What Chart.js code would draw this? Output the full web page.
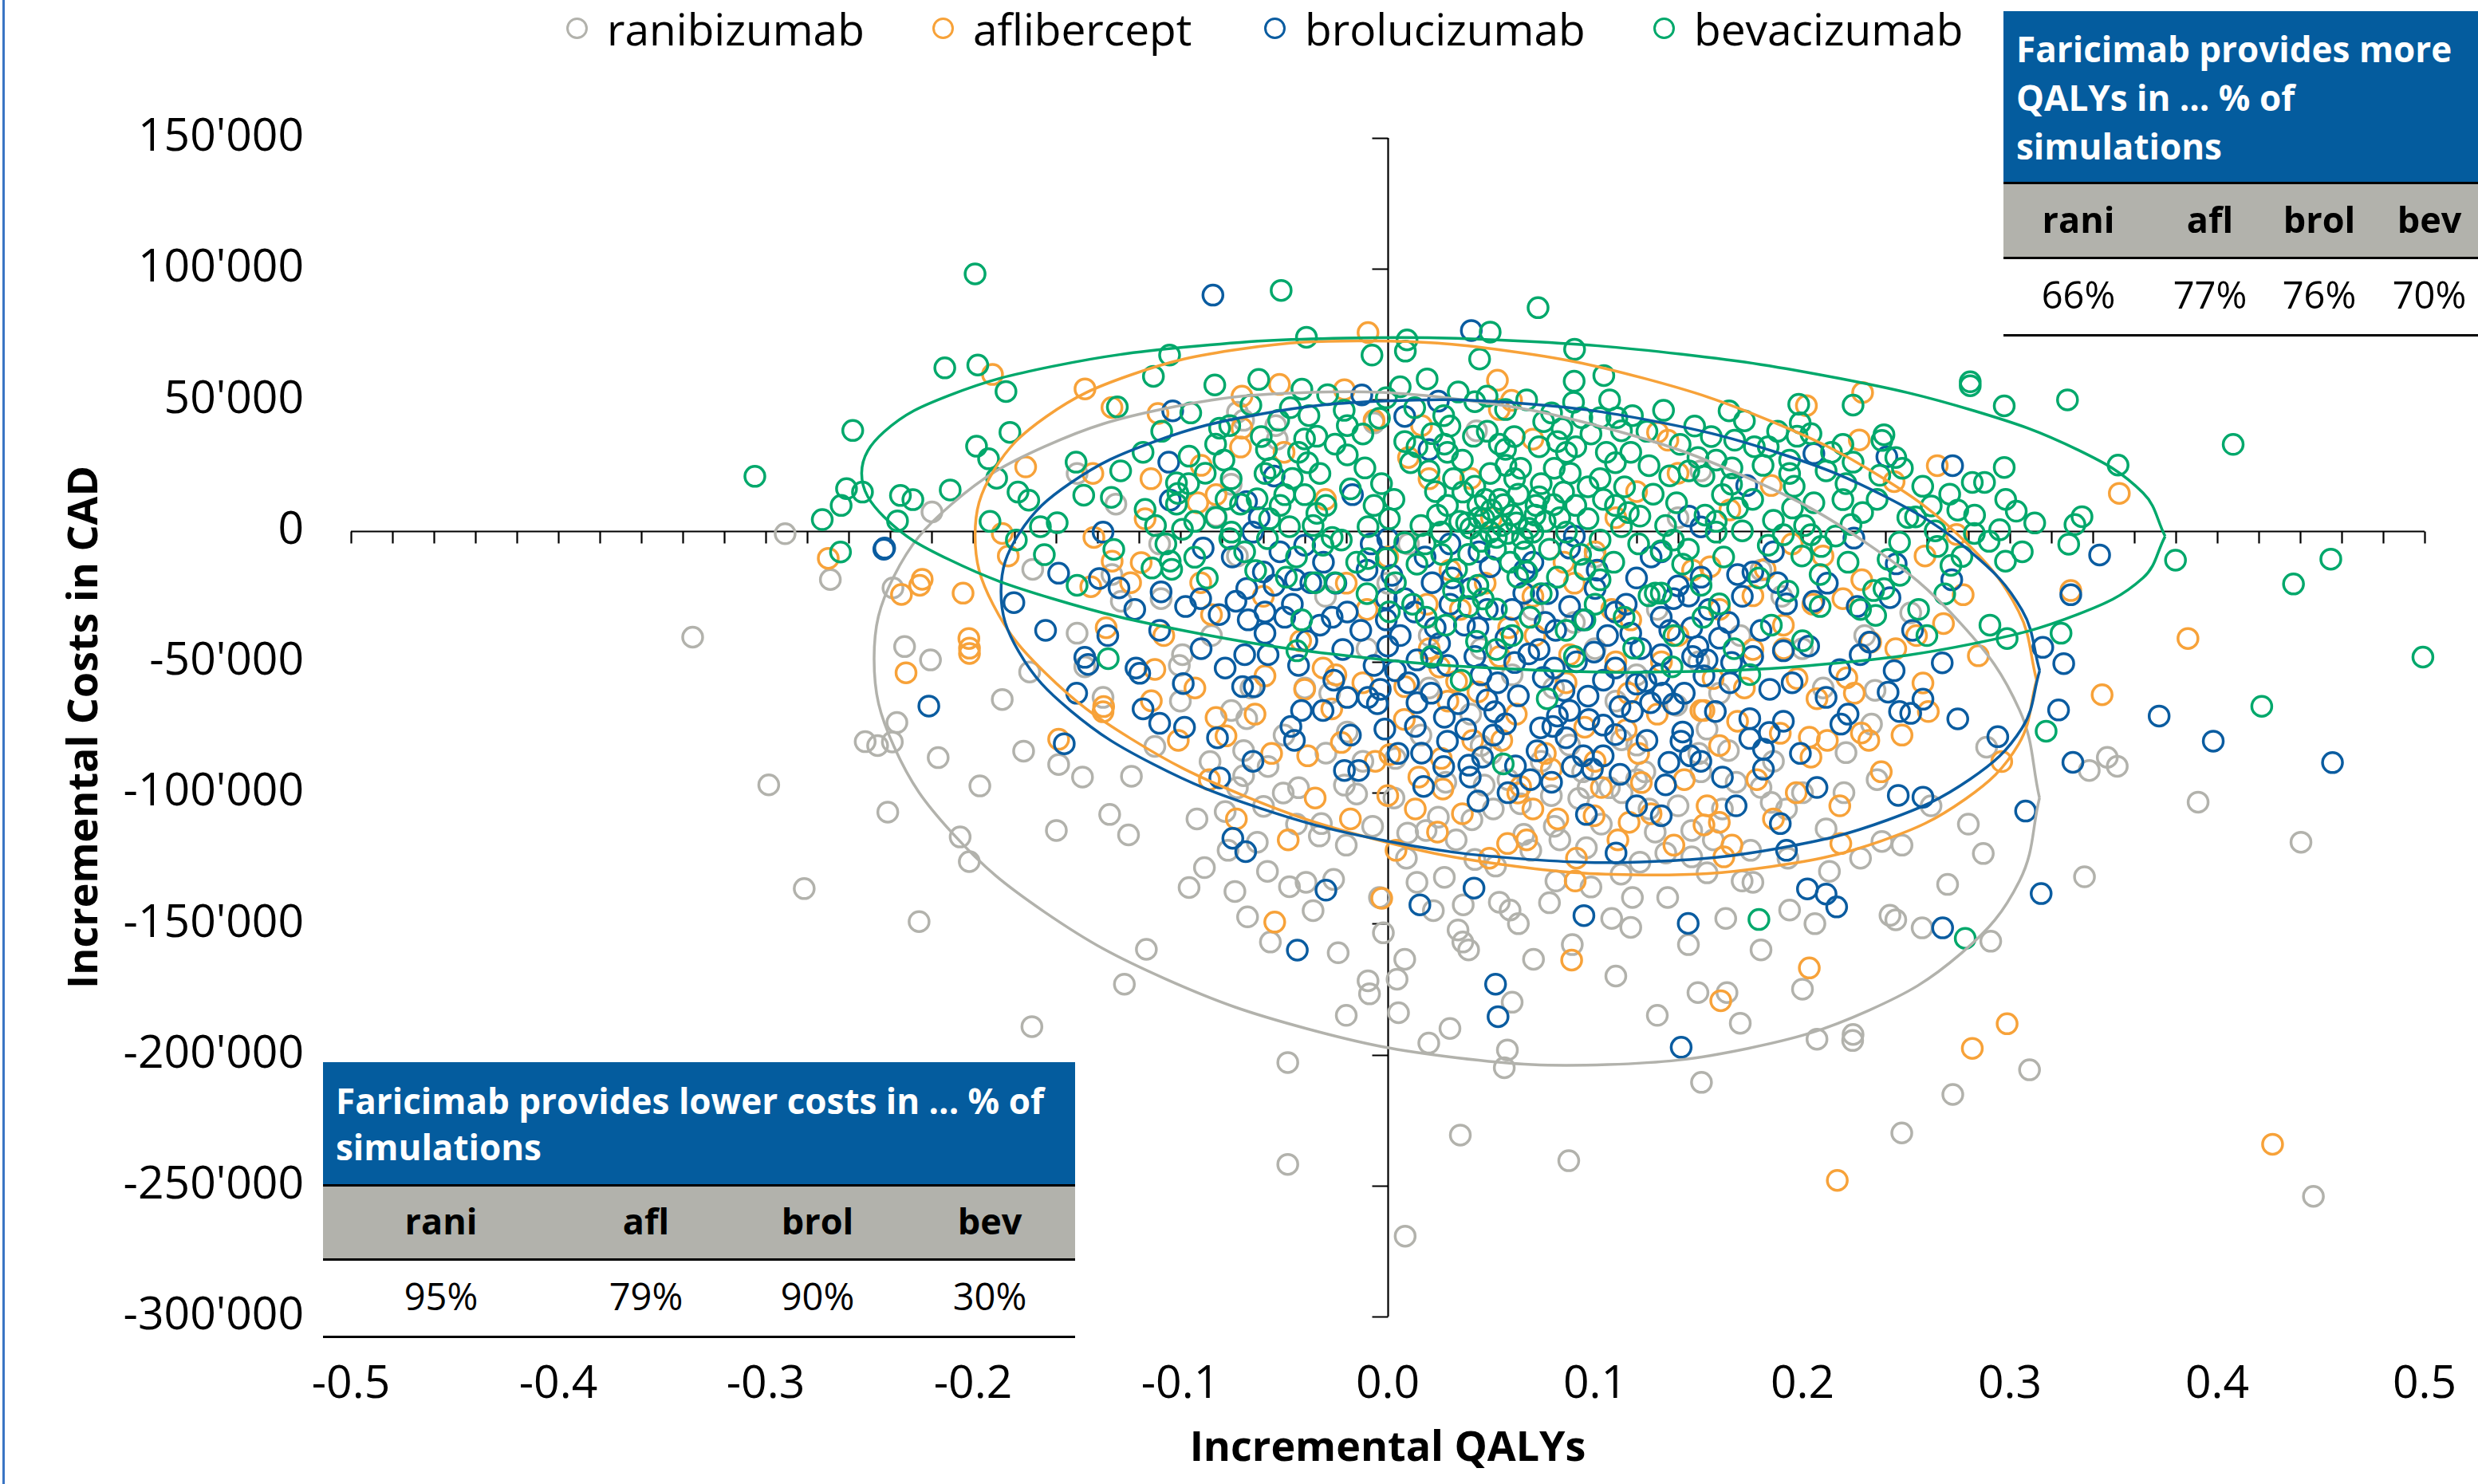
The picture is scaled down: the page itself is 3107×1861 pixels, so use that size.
<!DOCTYPE html>
<html><head><meta charset="utf-8">
<script src="https://cdn.jsdelivr.net/npm/chart.js@4.4.1/dist/chart.umd.min.js"></script>
<style>
html,body{margin:0;padding:0;background:#fff;}
body{width:3107px;height:1861px;position:relative;overflow:hidden;font-family:'Open Sans',sans-serif;color:#000;}
#c{position:absolute;left:0;top:0;}
.edge{position:absolute;left:3px;top:0;width:3px;height:1861px;background:#3a75c4;}
.lg{position:absolute;top:0;height:72px;line-height:72px;font-size:55px;white-space:nowrap;}
.mk{position:absolute;width:21px;height:21px;border-radius:50%;border-style:solid;border-width:3.5px;}
.tbl{position:absolute;z-index:5;}
.hdr{background:#045c9e;color:#fff;font-weight:700;font-size:44px;box-sizing:border-box;white-space:nowrap;}
.grow{position:relative;background:#b2b2ac;border-top:3px solid #000;border-bottom:3px solid #000;box-sizing:border-box;}
.vrow{position:relative;background:#fff;box-sizing:border-box;}
.cell{position:absolute;width:200px;text-align:center;white-space:nowrap;}
</style>
</head><body>
<canvas id="c" width="3107" height="1861"></canvas>
<div class="edge"></div>
<div id="legend"></div>
<div id="tblTop" class="tbl" style="left:2512px;top:14px;width:595px;"></div>
<div id="tblBottom" class="tbl" style="left:405px;top:1332px;width:943px;"></div>
<script>
// ---------------- DATA ----------------
const seriesNames = ['ranibizumab', 'aflibercept', 'brolucizumab', 'bevacizumab'];
const seriesColors = ['#b2b2ac', '#f7a239', '#0a5ca0', '#00a86b'];

const xTickValues = [-0.5, -0.4, -0.3, -0.2, -0.1, 0, 0.1, 0.2, 0.3, 0.4, 0.5];
const xTickLabels = ['-0.5', '-0.4', '-0.3', '-0.2', '-0.1', '0.0', '0.1', '0.2', '0.3', '0.4', '0.5'];
const yTickValues = [150000, 100000, 50000, 0, -50000, -100000, -150000, -200000, -250000, -300000];
const yTickLabels = ["150'000", "100'000", "50'000", "0", "-50'000", "-100'000", "-150'000", "-200'000", "-250'000", "-300'000"];
const xAxisTitle = 'Incremental QALYs';
const yAxisTitle = 'Incremental Costs in CAD';

const qalyTableTitle = ['Faricimab provides more', 'QALYs in ... % of', 'simulations'];
const costTableTitle = ['Faricimab provides lower costs in ... % of', 'simulations'];
const tableHeaders = ['rani', 'afl', 'brol', 'bev'];
const moreQalysPct = ['66%', '77%', '76%', '70%'];
const lowerCostsPct = ['95%', '79%', '90%', '30%'];

// points: [incremental QALYs, incremental costs in thousand CAD]
const ranibizumab = [
[-0.3352,-40.6],[-0.2985,-97],[-0.2814,-136.6],[-0.2906,-1.1],[-0.2688,-18.6],[-0.246,-82],[-0.252,-80.5],
[-0.2198,7.2],[-0.2386,-21.8],[-0.1712,-14.7],[-0.1498,21.9],[-0.1311,10.2],[-0.1285,-26.9],[-0.1498,-39.1],[-0.1093,-25.9],[-0.133,-16.7],[-0.0725,-9.6],[-0.0828,5.6],[-0.0755,17.8],[-0.0725,45.3],[-0.0695,42.2],[-0.054,40.2],[-0.0533,35],
[-0.233,-44.2],[-0.2205,-49.3],[-0.1727,-53.9],[-0.1859,-64.4],[-0.2367,-73.2],[-0.2389,-80.6],[-0.2168,-86.6],[-0.1756,-84.1],[-0.1587,-89.2],[-0.1472,-94],[-0.1236,-93.7],[-0.1967,-97.4],[-0.2411,-107.4],[-0.1341,-108.3],[-0.1598,-114.4],[-0.125,-116.1],[-0.2062,-116.9],[-0.2018,-126.3],[-0.226,-149.2],[-0.1164,-159.8],[-0.127,-173.1],[-0.1716,-189.3],[-0.1461,-51.9],[-0.1373,-63.6],[-0.1123,-82.3],[-0.099,-47.3],[-0.1005,-51.4],[-0.0857,-88.1],[-0.0695,-83.9],[-0.0695,-93.5],[-0.0725,-98.1],[-0.0577,-90],[-0.0599,-105.2],[-0.0784,-107.2],[-0.0629,-118.9],[-0.0884,-128.6],[-0.0958,-136.2],[-0.0737,-137.7],[-0.0676,-147.4],[-0.0566,-157],[-0.0474,-135.9],[-0.0394,-134.2],[-0.0261,-133.1],[-0.0239,-161.1],[-0.032,-111.8],[-0.033,-116.5],[-0.0209,-97.1],[-0.0298,-84.9],[-0.043,-98.1],[-0.0504,-100.1],[-0.0195,-76.8],[-0.0754,-68.6],[-0.068,-71.7],[-0.015,-100.5],
[-0.0073,-112.8],[-0.0021,-153.5],[0.0339,-152.4],[0.0362,-157],[0.0141,-134.2],[0.0273,-132.3],[0.0364,-142.8],[0.0538,-141.8],[0.059,-144.8],[0.0811,-133.7],[0.042,-125.5],[0.0958,-121],[0.1125,-131.1],[0.1216,-126.5],[0.1341,-123],[0.1466,-124.5],[0.154,-130.6],[0.1709,-133.7],[0.1761,-134.2],[0.1938,-144.8],[0.1849,-103.7],[0.1923,-106.2],[0.2114,-113.8],[0.1466,-114.4],[0.1614,-106.2],[0.126,-106.2],[0.0803,-112.8],[0.0656,-115.9],[0.064,-104.2],[0.0509,-106.2],[0.0406,-110.3],[0.0244,-109.3],[0.0185,-114.4],[0.0096,-115.4],[0.0037,-86.9],[0.0465,-97.1],[0.0789,-101.1],[0.0921,-102.2],[0.0966,-98.1],[0.1069,-98.1],[0.0877,-81.8],[0.1127,-79.8],[0.1201,-81.8],[0.151,-92],[0.1643,-83.9],[0.1393,-66.6],[0.154,-75.7],[0.1172,-151.4],[0.0703,-163.6],[0.0082,-163.6],[-0.0095,-171.8],[-0.0088,-176.8],[0.0052,-184],[0.0045,-171.2],[0.1496,-176.3],[0.1636,-176.3],
[0.02,-40],[0.06,-55],[0.1,-45],[0.13,-30],[0.17,-40],[-0.01,-45],[0.04,-70],[0.11,-65],[0.08,-60],[0.15,-50],[0.0,-20],[0.07,-30],[0.19,-25],[0.21,-60],[0.18,-98],[0.05,-85],[-0.04,-60],[0.12,-95],
[-0.11,-5],[-0.1,-65],[-0.092,-110],[-0.085,-40],[-0.077,-122],[-0.066,-60],[-0.058,-130],[-0.05,-78],[-0.044,-112],[-0.036,-145],[-0.028,-62],[-0.02,-120],[-0.012,-88],[-0.004,-140],[0.003,-102],[0.009,-125],[0.016,-78],[0.022,-145],[0.028,-96],[0.033,-118],[0.039,-160],[0.045,-82],[0.052,-128],[0.058,-95],[0.063,-150],[0.069,-122],[0.074,-88],[0.078,-142],[0.083,-118],[0.089,-158],[0.094,-92],[0.098,-136],[0.103,-112],[0.108,-148],[0.113,-100],[0.118,-140],[0.124,-92],[0.129,-115],[0.135,-140],[0.14,-105],[0.145,-158],[0.15,-85],[0.157,-118],[0.163,-148],[0.168,-96],[0.175,-122],[0.18,-160],[0.186,-88],[0.193,-125],[0.2,-100],[0.206,-150],[0.213,-130],[0.22,-100],[0.228,-125],[0.236,-95],[0.248,-120],[0.262,-105],[0.27,-135],[0.28,-112],[0.11,-170],[0.13,-185],[0.06,-180],[0.03,-190],[-0.02,-185],[0.17,-188],[0.2,-175],[0.02,-60],[0.045,-45],[0.09,-35],[0.12,-55],[0.16,-62],[0.18,-15],[0.2,-45],[0.23,-40],[0.01,-5],[-0.03,-25],[0.1,-10],[0.14,5],
[-0.0482,-203],[-0.0482,-241.9],[0.0198,-195.6],[0.0577,-198.2],[0.0562,-205],[0.3095,-205.8],[0.1513,-210.6],[0.2725,-215.2],[0.2479,-229.9],[0.035,-230.7],[0.0873,-240.5],[0.4464,-254.1],[0.0084,-269.3],[0.207,-194.1],[0.2242,-194.6],
[0.3908,-103.6],[0.4404,-118.9],[0.2383,-118.6],[0.2872,-123.2],[0.336,-132.1],[0.2422,-146.8],[0.245,-148.5],[0.2577,-151.6],[0.2908,-156.7],[0.2244,-192.3],
[0.2522,-31.3],[0.235,-60.9],[0.2333,-73.8],[0.221,-84.7],[0.2888,-82.6],[0.3383,-91.5],[0.347,-86.5],[0.3518,-89.9],
[-0.0066,41.2],[0.0428,38.2],[0.151,22.9]
];

const aflibercept = [
[-0.2698,-10.5],
[-0.1906,59.7],[-0.146,54.2],[-0.133,47.1],[-0.1108,44.8],[-0.0522,55.9],[-0.0209,53.9],[-0.0703,51.4],[-0.1746,24.4],[-0.1859,-1],[-0.183,-9.6],[-0.2345,-24.3],[-0.2245,-18.5],[-0.2257,-20.8],[-0.2048,-23.8],[-0.202,-41.1],[-0.1422,21.9],[-0.1142,19.9],[-0.117,4.6],[-0.1417,-2.5],[-0.1329,-11.6],[-0.1432,-21.3],[-0.124,-19.8],[-0.1358,-37],[-0.1189,-12.1],[-0.0916,10.7],[-0.0828,13.8],[-0.0703,39.2],[-0.071,32],[-0.0902,-19.8],[-0.085,-32],
[-0.2017,-44.8],[-0.2017,-46.8],[-0.2323,-54.2],[-0.1587,-79.6],[-0.1123,-52.9],[-0.137,-67.1],[-0.1373,-69.1],[-0.114,-64.9],[-0.0828,-71.3],[-0.078,-78.3],[-0.0545,-149.4],[-0.0224,-80.8],[-0.0386,-85.9],[-0.0401,-60.5],[-0.0592,-55.4],[-0.0312,-52.4],[-0.025,-55],
[-0.0095,75.7],[0.0529,57.5],[0.0597,49.8],[0.1301,37.6],[0.1351,34.6],[0.2019,47.8],[0.1849,17.3],[0.2099,-9.6],[0.1555,-13.7],[0.182,-14.7],[0.1761,-24.8],[0.0163,40.2],[0.0538,46.3],[-0.0066,42.2],[0.0199,19.9],[0.0583,-37],[0.1172,-34],[0.1908,-36],[0.035,-30],[0.09,-20],
[-0.01,-30],[0.02,-45],[0.07,-25],[0.11,-50],[0.14,-40],[0.0,-10],[0.05,5],[0.1,-8],[0.16,-30],[-0.06,-25],[0.12,15],[0.03,-15],
[-0.108,-40],[-0.101,-80],[-0.093,-60],[-0.086,-95],[-0.073,-110],[-0.064,-70],[-0.056,-85],[-0.048,-118],[-0.042,-42],[-0.035,-102],[-0.027,-68],[-0.018,-110],[-0.012,-58],[-0.006,-88],[0.004,-122],[0.008,-72],[0.015,-94],[0.019,-28],[0.024,-115],[0.029,-65],[0.036,-108],[0.041,-80],[0.047,-20],[0.049,-125],[0.054,-48],[0.062,-70],[0.067,-118],[0.071,-40],[0.076,-85],[0.082,-110],[0.086,-58],[0.091,-125],[0.095,-75],[0.103,-98],[0.108,-30],[0.111,-118],[0.116,-62],[0.121,-85],[0.127,-108],[0.132,-50],[0.138,-120],[0.143,-95],[0.147,-15],[0.154,-105],[0.16,-82],[0.166,-120],[0.172,-60],[0.178,-95],[0.186,-110],[0.191,-45],[0.197,-100],[0.205,-28],[0.212,-80],[0.218,-105],[0.225,-62],[0.238,-92],[0.248,-78],[0.255,-40],[-0.09,25],[-0.05,30],[-0.03,12],[0.01,28],[0.04,20],[0.07,35],[0.085,-12],[0.14,22],[0.165,8],[0.195,-5],[0.11,5],[-0.02,-20],[0.025,-52],[0.13,-70],
[0.2033,-78.8],[0.2041,-86.4],[0.1893,-77.3],[0.1687,-72.7],[0.207,-64.1],[0.1974,-56.4],[0.1223,-96.1],[0.151,-68.6],[0.0789,-91],[0.07,-106.2],[0.0627,-100.1],[0.0266,-98.6],[0.0133,-106.2],[0.0,-101.1],[0.001,-85.4],[-0.0029,-140.3],[0.0887,-163.9],[0.2033,-166.9],[0.1606,-179.4],[0.0904,-133.7],[0.1621,-124.5],[0.1525,-112.3],[0.1599,-111.3],[0.1164,-111.3],[0.0995,-108.8],[0.0578,-119.4],[0.0258,-86.9],[0.0641,-97.6],[0.1525,-68.6],[0.0877,-47.3],[0.1569,-56.4],[0.1761,-45.3],[0.0332,-57.5],[0.0435,-61.5],[0.0082,-59.5],[0.1,-88],[0.115,-76],[0.055,-80],
[0.229,52.8],[0.3528,14.3],[0.2274,34.7],[0.265,24.9],[0.2442,18.8],[0.2743,-1.4],[0.2591,-9.6],[0.2775,-24.4],[0.2286,-18.7],[0.2195,-25.9],[0.3294,-22.8],[0.268,-35.4],[0.3859,-41.1],[0.2848,-47.7],[0.2329,-42.5],[0.2214,-56.1],[0.2581,-58.1],[0.2607,-69],[0.3445,-62.6],[0.2284,-77.2],[0.232,-80],[0.2961,-88.1],[0.245,-45],
[0.2185,-119.4],[0.2987,-188.2],[0.2819,-197.6],[0.2168,-248],[0.4267,-234.2]
];

const brolucizumab = [
[-0.243,-7],
[-0.0843,90],[-0.1037,45.8],[-0.2426,-6.6],[-0.1803,-27.4],[-0.1056,26.2],[-0.1049,11.7],[-0.1373,-0.5],[-0.1587,-16.2],[-0.1391,-18.2],[-0.1296,-21.8],[-0.1093,-23.3],[-0.089,-6.6],[-0.0681,11.2],[-0.0548,20.9],[-0.017,13.8],[-0.0401,-5.5],[-0.0651,-0.5],[-0.06,-15.7],[-0.0548,-20.8],[-0.0445,-18.7],[-0.0975,-28.9],[-0.0902,-25.9],[-0.0732,-26.9],[-0.0813,-32],[-0.0673,-34],[-0.0592,-31],[-0.0497,-33],[-0.0592,-39.1],[-0.0327,-36],[-0.0268,-33],[-0.0195,-31],[-0.0371,-19.8],[-0.025,-20],
[-0.2213,-66.9],[-0.156,-81.3],[-0.1461,-48.3],[-0.1445,-51],[-0.1214,-52.4],[-0.1196,-54.4],[-0.11,-73.5],[-0.0986,-58.3],[-0.0821,-79],[-0.081,-94.3],[-0.0747,-117.4],[-0.0685,-122.5],[-0.0436,-160.1],[-0.0298,-137.2],[-0.0209,-91.5],[-0.0312,-68.6],[-0.0416,-68.6],[-0.0467,-74.7],[-0.0644,-59.5],[-0.07,-59.5],[-0.0784,-52.4],[-0.0577,-47.3],[-0.069,-47.3],[-0.043,-51.4],[-0.0217,-45.3],[-0.0195,-63.6],
[0.0403,76.5],[-0.0125,51.9],[0.0244,49.5],[0.0082,43.7],[0.0199,31],[0.2055,29.5],[0.1731,17.3],[0.1452,5.6],[0.151,1.5],[0.1511,-17.7],[0.1687,-16.7],[0.1761,-15.7],[0.1879,-19.8],[0.1923,-27.9],[0.2055,-26.9],[0.1378,-25.9],[0.1643,-35],[0.1319,-8],[-0.0007,-34],[0.0229,-37],[0.0435,-37],[0.0759,-35],[0.0877,-28.9],[0.1098,-31],[0.1172,-39.1],[0.1319,-33],[0.1466,-37],[0.0656,-23.8],[0.0082,-25.9],[0.0494,-13.7],[0.0877,-6.6],[0.1452,-24.9],[0.0214,-19.8],[-0.0007,-25.9],[0.03,-28],[0.06,-30],[0.1,-22],[0.12,-18],[0.04,-22],[-0.01,-15],[0.07,-12],
[-0.075,-10],[-0.068,-22],[-0.062,5],[-0.052,-8],[-0.046,-28],[-0.039,-42],[-0.031,-12],[-0.026,-57],[-0.013,-38],[-0.008,-5],[-0.005,-66],[0.002,-17],[0.006,-40],[0.01,-58],[0.013,-31],[0.018,-10],[0.021,-62],[0.025,-43],[0.031,-18],[0.034,-66],[0.037,-36],[0.042,-48],[0.044,-8],[0.048,-30],[0.051,-78],[0.053,-58],[0.057,-41],[0.063,-63],[0.066,-15],[0.068,-47],[0.072,-84],[0.075,-56],[0.077,-24],[0.081,-38],[0.085,-61],[0.086,-79],[0.091,-50],[0.094,-34],[0.097,-72],[0.101,-15],[0.104,-57],[0.106,-40],[0.112,-93],[0.115,-28],[0.118,-69],[0.122,-45],[0.125,-80],[0.127,-10],[0.131,-55],[0.134,-97],[0.136,-38],[0.14,-21],[0.143,-62],[0.147,-48],[0.151,-88],[0.155,-30],[0.158,-69],[0.16,-41],[0.165,-58],[0.168,-105],[0.171,-25],[0.176,-48],[0.18,-38],[0.184,-77],[0.186,-8],[0.195,-58],[0.199,-85],[0.203,-44],[0.207,-98],[0.212,-20],[0.218,-53],[0.222,-70],[0.027,-90],[0.058,-100],[0.079,-96],[0.12,-105],[-0.09,-45],[-0.11,-38],[-0.122,-30],[-0.135,-40],[-0.15,-62],[-0.165,-38],[-0.118,-68],[-0.098,-75],[-0.065,-88],[-0.045,-80],[0.005,-85],[-0.018,-78],[0.03,-5],[0.09,-2],[0.0,-3],
[0.1908,-45.8],[0.1842,-60.5],[0.1746,-71.7],[0.1908,-72.7],[0.1746,-79.3],[0.1812,-91],[0.1812,-83.4],[0.2114,-63.6],[0.1614,-94],[0.1422,-76.8],[0.1414,-80.3],[0.1459,-85.9],[0.1356,-88.4],[0.1378,-66.1],[0.112,-67.1],[0.1267,-65.6],[0.1326,-62],[0.1245,-57.5],[0.1525,-55.4],[0.154,-49.3],[0.1098,-77.8],[0.1039,-74.2],[0.0943,-85.9],[0.1039,-85.9],[0.089,-90],[0.0987,-91],[0.0966,-63.1],[0.0877,-68.6],[0.0818,-70.7],[0.0796,-74.7],[0.0737,-75.2],[0.0688,-95],[0.0616,-89.8],[0.0568,-73.7],[0.0516,-69.1],[0.0479,-64.6],[0.0457,-86.4],[0.0398,-94],[0.0435,-103.2],[0.0391,-89.5],[0.0376,-75.7],[0.0288,-80.3],[0.0273,-71.2],[0.0133,-74.7],[0.0141,-65.6],[0.0163,-84.9],[0.0173,-97.6],[-0.0014,-75.7],[-0.014,-91.5],[-0.0095,-63.6],[-0.0036,-60.5],[0.0155,-142.8],[0.0416,-136.4],[0.0946,-146.9],[0.1449,-149.9],[0.052,-173.1],[0.0532,-185.5],[0.1101,-123],[0.2024,-136.7],[0.2114,-138.7],[0.1923,-122],[0.1893,-111.8],[0.1319,-108.8],[0.0958,-108.3],[-0.0066,-51.4],[0.0037,-53.4],[0.0141,-49.3],[0.0214,-48.3],[0.0288,-51.4],[0.0612,-50.3],[0.073,-45.3],[0.0803,-52.4],[0.0995,-46.3],[0.1098,-52.4],[0.12,-58.5],[0.1319,-47.3],[0.1496,-44.2],[0.1658,-50.3],[0.045,-55],[0.0,-44],
[0.2407,28.3],[0.2724,24.9],[0.2248,-2.8],[0.3433,-9.2],[0.2452,-12.6],[0.272,-18.7],[0.2422,-25.5],[0.2264,-28.9],[0.3294,-24.4],[0.2531,-38],[0.3159,-44.5],[0.2674,-50.4],[0.326,-50.7],[0.2323,-42.5],[0.2278,-47.3],[0.2442,-53.4],[0.2413,-61.6],[0.2581,-64.3],[0.2522,-69.7],[0.2468,-69],[0.2749,-71.8],[0.3235,-68.4],[0.372,-70.7],[0.3981,-80.3],[0.4556,-88.5],[0.2185,-73.8],[0.2942,-78.6],[0.3304,-88.4],[0.2462,-101],[0.2581,-101.7],
[0.3076,-107],[0.3151,-138.5],[0.2165,-143.6],[0.2676,-151.6],[0.1415,-197.2]
];

const bevacizumab = [
[-0.258,38.3],[-0.3052,20.8],[-0.261,16.1],[-0.2533,14.8],[-0.2636,9.7],[-0.2727,4.3],[-0.2639,-8.1],
[-0.199,98.1],[-0.0514,91.8],[-0.0392,73.9],[-0.2136,62.2],[-0.1977,63.3],[-0.1841,53.2],[-0.1052,67.1],[-0.113,59],[-0.1304,47.3],[-0.0834,55.7],[-0.0622,57.8],[-0.0414,54.1],[-0.1822,37.6],[-0.1983,32.3],[-0.1925,27.5],[-0.1886,20.1],[-0.1783,14.8],[-0.1731,11.7],[-0.211,15.6],[-0.235,13.5],[-0.229,11.9],[-0.2364,3.8],[-0.1918,3.6],[-0.1791,-3.5],[-0.1656,-9.1],[-0.1503,26.2],[-0.1288,22.9],[-0.0958,28.5],[-0.1019,18.3],[-0.1012,14.3],[-0.1019,10.2],[-0.1466,13.6],[-0.1333,12.8],[-0.117,8.2],[-0.1594,3.1],[-0.1675,1.6],[-0.1321,-7.1],[-0.1498,-20.8],[-0.1137,-14.2],[-0.1049,-11.6],[-0.1042,-14.7],[-0.099,0.6],[-0.0931,3.6],[-0.0931,-10.1],[-0.0828,5.1],[-0.0762,-3],[-0.0755,19.9],[-0.083,33.1],[-0.0811,39.2],[-0.0762,40.2],[-0.0526,42.2],[-0.071,10.2],[-0.063,12.2],[-0.0585,31],[-0.0592,21.9],[-0.0563,23.9],[-0.0497,13.8],[-0.0519,9.7],[-0.0401,35.1],[-0.0342,36.1],[-0.043,30],[-0.0386,26],[-0.0254,33.1],[-0.0195,40.2],[-0.0195,29],[-0.0327,21.9],[-0.0298,9.7],[-0.0342,6.7],[-0.0401,13.8],[-0.0268,-2.5],[-0.0312,-5.5],[-0.0224,-3.5],[-0.0474,1.6],[-0.057,4.6],[-0.0754,-0.5],[-0.0637,-15.2],[-0.0489,-17.7],[-0.035,-19.8],[-0.0254,-19.8],[-0.0415,-34],
[-0.1348,-48.8],[-0.0438,-45.8],
[0.0725,85.2],[0.0494,75.9],[0.0093,72.9],[0.0085,68.6],[-0.0076,67.1],[0.0443,65.6],[0.0901,69.3],[0.1042,59.3],[0.0899,57.1],[0.0896,49.1],[-0.0007,50.8],[0.042,49.3],[0.0479,51.4],[0.0568,46.3],[0.0752,41.7],[0.0936,43.2],[0.1024,43.2],[0.1105,43.2],[0.1127,38.2],[0.1646,45.8],[0.1982,48.3],[0.1989,41.2],[0.1974,36.1],[0.2041,37.1],[0.1673,34.6],[0.1768,32.1],[0.1835,32.1],[0.1938,27],[0.1938,21.9],[0.2114,22.9],[0.1496,28],[0.1584,27],[0.1452,22.9],[0.1525,20.9],[0.1658,17.8],[0.1614,13.8],[0.1952,8.7],[0.2055,10.7],[0.1687,8.7],[0.1393,10.7],[0.1584,3.6],[0.1908,-1.5],[0.2041,-1.5],[0.1835,-5.5],[0.1997,-9.6],[0.2085,-16.7],[0.1584,-0.5],[0.1378,-3.5],[0.1319,-7.6],[0.1422,-12.7],[0.1511,-20.8],[0.2085,-28.9],[0.1599,-27.9],[0.1319,-23.8],[0.126,-24.8],
[-0.0066,9.7],[0.0008,4.6],[-0.0095,1.6],[0.0082,-4.5],[-0.0007,-10.6],[0.0141,-12.7],[0.0037,-19.8],[-0.0095,-10.6],[0.0008,-30.9],[0.0185,-33],[0.0141,32.1],[0.0082,34.1],[0.0214,37.1],[0.0273,33.1],[0.0288,30],[0.0199,22.9],[0.0317,19.9],[0.0413,36.1],[0.0538,33.1],[0.0568,31.1],[0.0641,23.9],[0.073,32.1],[0.0818,34.1],[0.0862,30],[0.0907,32.1],[0.0803,23.9],[0.1054,30],[0.1098,26],[0.1172,30],[0.126,24.9],[0.1024,19.9],[0.1142,16.8],[0.0465,4.6],[0.0494,-0.5],[0.0435,9.7],[0.0524,-2.5],[0.0715,9.7],[0.0759,3.6],[0.07,-0.5],[0.0362,14.8],[0.0288,9.7],[0.0347,3.6],[0.0258,-0.5],[0.0907,9.7],[0.0966,4.6],[0.0862,-0.5],[0.1024,-3.5],[0.1098,9.7],[0.1127,1.6],[0.1216,5.6],[0.0966,16.8],[0.0848,14.8],[0.0612,19.9],[0.0494,21.9],[0.0332,-14.7],[0.0317,-22.8],[0.0435,-20.8],[0.039,-28.9],[0.0627,-17.7],[0.0671,-15.7],[0.0818,-17.7],[0.0951,-14.7],[0.1024,-18.7],[0.129,-23.8],[0.0524,-29.9],[0.0686,-33],[0.0951,-34],
[0.055,2],[0.06,6],[0.045,-4],[0.065,-3],[0.05,8],[0.058,-1],[0.068,1],[0.04,1],
[-0.118,30],[-0.109,38],[-0.095,45],[-0.088,22],[-0.079,27],[-0.066,48],[-0.061,36],[-0.047,47],[-0.038,44],[-0.029,52],[-0.021,46],[-0.012,37],[-0.004,43],[0.006,55],[0.013,47],[0.019,58],[0.027,44],[0.034,53],[0.03,40],[0.048,38],[0.061,36],[0.067,50],[0.079,45],[0.084,39],[0.098,37],[0.107,50],[0.118,44],[0.125,38],[0.133,46],[0.141,33],[0.148,40],[0.156,36],[0.172,42],[0.181,25],[0.188,38],[0.196,17],[0.214,30],[0.221,18],[0.229,7],[0.236,12],[0.245,28],[0.258,17],[0.264,0],[0.271,14],[0.283,6],[0.29,-4],[0.298,12],[0.306,-8],[0.312,3],
[-0.112,2],[-0.107,-5],[-0.096,18],[-0.087,-18],[-0.078,12],[-0.069,-8],[-0.058,-3],[-0.046,20],[-0.044,-10],[-0.036,2],[-0.018,16],[-0.015,-12],[-0.011,24],[-0.003,18],[0.003,12],[0.011,26],[0.016,2],[0.018,-5],[0.023,15],[0.026,-9],[0.036,27],[0.039,-9],[0.042,17],[0.054,12],[0.057,25],[0.063,14],[0.074,18],[0.078,-7],[0.083,5],[0.088,22],[0.093,-9],[0.104,12],[0.109,-12],[0.116,7],[0.121,-5],[0.128,14],[0.134,2],[0.136,21],[0.145,-7],[0.153,6],[0.162,-10],[0.166,24],[0.171,0],[0.176,12],[0.179,-18],[0.186,4],[0.193,-23],[0.201,2],[0.209,-6],[0.216,-2],[0.222,-12],[0.228,-30],[0.247,-17],[0.256,-30],[0.26,-40],
[0.044,5],[0.047,12],[0.052,-7],[0.056,10],[0.062,3],[0.066,-8],[0.071,6],[0.073,13],[0.038,3],[0.059,-12],[0.08,10],[0.024,6],
[-0.01,-24],[0.012,-28],[0.028,-36],[0.046,-26],[0.06,-40],[0.074,-24],[0.086,-38],[0.1,-28],[0.114,-33],[0.138,-40],[0.152,-33],[0.167,-45],[0.185,-36],[0.2,-42],[0.021,-48],[0.09,-48],
[0.1186,-44.8],[0.0524,-45.3],[0.0428,-42.2],[0.1371,-51.9],[0.1746,-54.9],[0.0354,-57],[0.0769,-64.1],[0.0557,-89],[0.179,-148.4],
[0.2809,56.9],[0.2809,55.4],[0.2244,48],[0.2973,47.7],[0.3278,50],[0.4077,33],[0.3522,25.1],[0.2195,33],[0.2393,36.7],[0.2383,34.5],[0.2244,26.2],[0.2482,23.9],[0.2373,21.2],[0.2819,18.5],[0.2878,18.5],[0.2973,24.2],[0.2195,11.9],[0.2621,9.5],[0.2508,5.1],[0.2545,5.3],[0.2749,7.9],[0.3031,7.5],[0.2234,2.4],[0.3348,5.4],[0.3314,2.4],[0.2468,-4.4],[0.2829,-1],[0.2951,0.4],[0.3284,-5.1],[0.3799,-11.2],[0.4548,-10.8],[0.4368,-20.3],[0.4992,-48.2],[0.265,-6],[0.2413,-10.9],[0.2716,-13.2],[0.2769,-9.8],[0.2686,-24.1],[0.2979,-11.6],[0.2343,-22.8],[0.2393,-22.1],[0.2353,-32.3],[0.2904,-36],[0.2987,-41.1],[0.3247,-39.1],[0.4215,-67],[0.3175,-76.5],
[0.2785,-155.6]
];

// confidence ellipses: [QALYs, thousand CAD]
const ranibizumabEllipse = [[0.3143,-102.0],[0.3047,-133.6],[0.2766,-161.3],[0.2320,-183.1],[0.1738,-197.6],[0.1060,-203.8],[0.0333,-201.2],[-0.0394,-190.0],[-0.1072,-171.1],[-0.1654,-145.6],[-0.2100,-115.4],[-0.2381,-82.4],[-0.2477,-48.9],[-0.2381,-17.3],[-0.2100,10.4],[-0.1654,32.2],[-0.1072,46.7],[-0.0394,52.8],[0.0333,50.3],[0.1060,39.1],[0.1738,20.2],[0.2320,-5.3],[0.2766,-35.6],[0.3047,-68.5],[0.3143,-102.0]];
const afliberceptEllipse = [[0.3129,-57.0],[0.3042,-81.5],[0.2786,-102.4],[0.2380,-118.4],[0.1850,-128.2],[0.1232,-131.4],[0.0570,-127.6],[-0.0093,-117.1],[-0.0710,-100.6],[-0.1240,-79.3],[-0.1647,-54.6],[-0.1903,-28.2],[-0.1990,-1.8],[-0.1903,22.6],[-0.1647,43.6],[-0.1240,59.5],[-0.0710,69.4],[-0.0093,72.5],[0.0570,68.8],[0.1232,58.3],[0.1850,41.8],[0.2380,20.5],[0.2786,-4.2],[0.3042,-30.7],[0.3129,-57.0]];
const brolucizumabEllipse = [[0.3144,-53.4],[0.3059,-75.3],[0.2809,-94.8],[0.2411,-110.4],[0.1893,-121.1],[0.1288,-126.2],[0.0640,-125.2],[-0.0008,-118.4],[-0.0612,-106.0],[-0.1131,-89.1],[-0.1529,-68.7],[-0.1779,-46.2],[-0.1865,-23.2],[-0.1779,-1.2],[-0.1529,18.3],[-0.1131,33.9],[-0.0612,44.6],[-0.0008,49.6],[0.0640,48.7],[0.1288,41.8],[0.1893,29.5],[0.2411,12.6],[0.2809,-7.9],[0.3059,-30.3],[0.3144,-53.4]];
const bevacizumabEllipse = [[0.3749,-2.1],[0.3642,-18.0],[0.3328,-31.9],[0.2829,-43.0],[0.2178,-50.4],[0.1420,-53.8],[0.0606,-52.8],[-0.0207,-47.6],[-0.0965,-38.4],[-0.1616,-25.9],[-0.2115,-11.0],[-0.2429,5.3],[-0.2537,22.0],[-0.2429,37.8],[-0.2115,51.7],[-0.1616,62.8],[-0.0965,70.2],[-0.0207,73.6],[0.0606,72.6],[0.1420,67.4],[0.2178,58.2],[0.2829,45.8],[0.3328,30.9],[0.3642,14.5],[0.3749,-2.1]];

// ---------------- BUILD ----------------
const FONT = "'Open Sans', sans-serif";
const toXY = arr => arr.map(p => ({ x: p[0], y: p[1] * 1000 }));
const pointSets = [ranibizumab, aflibercept, brolucizumab, bevacizumab];
const ellipseSets = [ranibizumabEllipse, afliberceptEllipse, brolucizumabEllipse, bevacizumabEllipse];

const datasets = [];
pointSets.forEach((pts, i) => {
  datasets.push({
    label: seriesNames[i], data: toXY(pts), order: 8 - i,
    pointStyle: 'circle', pointRadius: 12.5, pointBorderWidth: 3.5,
    pointBorderColor: seriesColors[i], pointBackgroundColor: 'rgba(0,0,0,0)',
    borderColor: seriesColors[i], backgroundColor: 'rgba(0,0,0,0)', clip: false
  });
});
ellipseSets.forEach((pts, i) => {
  datasets.push({
    label: seriesNames[i] + ' ellipse', data: toXY(pts), order: 4 - i,
    showLine: true, pointRadius: 0, borderWidth: 3.5, tension: 0.4,
    borderColor: seriesColors[i], backgroundColor: 'rgba(0,0,0,0)', fill: false, clip: false
  });
});

const crossAxes = {
  id: 'crossAxes',
  beforeDatasetsDraw(chart) {
    const { ctx, chartArea: a, scales: { x, y } } = chart;
    const x0 = Math.round(x.getPixelForValue(0)) + 0.5;
    const y0 = Math.round(y.getPixelForValue(0)) + 0.5;
    ctx.save();
    ctx.strokeStyle = '#000';
    ctx.lineWidth = 2.2;
    ctx.beginPath();
    ctx.moveTo(a.left, y0); ctx.lineTo(a.right, y0);
    ctx.moveTo(x0, a.top); ctx.lineTo(x0, a.bottom);
    for (let i = 0; i <= 50; i++) {
      const px = Math.round(x.getPixelForValue(-0.5 + i * 0.02)) + 0.5;
      ctx.moveTo(px, y0); ctx.lineTo(px, y0 + 15);
    }
    yTickValues.forEach(v => {
      const py = Math.round(y.getPixelForValue(v)) + 0.5;
      ctx.moveTo(x0 - 20, py); ctx.lineTo(x0, py);
    });
    ctx.stroke();
    ctx.restore();
  }
};

new Chart(document.getElementById('c'), {
  type: 'scatter',
  data: { datasets },
  options: {
    responsive: false, animation: false, devicePixelRatio: 1, events: [],
    layout: { padding: { left: 0, right: 67, top: 173, bottom: 0 } },
    plugins: { legend: { display: false }, tooltip: { enabled: false } },
    scales: {
      x: {
        type: 'linear', position: 'bottom', min: -0.5, max: 0.5,
        grid: { display: false, drawTicks: false }, border: { display: false },
        afterBuildTicks: s => { s.ticks = xTickValues.map(v => ({ value: v })); },
        afterFit: s => { s.height = 210; },
        ticks: { autoSkip: false, maxRotation: 0, padding: 0, color: '#000',
                 font: { family: FONT, size: 57, lineHeight: '172px' }, callback: (v, i) => xTickLabels[i] },
        title: { display: true, text: xAxisTitle, color: '#000', padding: { top: 0, bottom: 13 },
                 font: { family: FONT, size: 52, weight: 'bold' } }
      },
      y: {
        type: 'linear', position: 'left', min: -300000, max: 150000,
        grid: { display: false, drawTicks: false }, border: { display: false },
        afterBuildTicks: s => { s.ticks = yTickValues.map(v => ({ value: v })); },
        afterFit: s => { s.width = 440; },
        ticks: { autoSkip: false, padding: 59, color: '#000',
                 font: { family: FONT, size: 57 }, callback: (v, i) => yTickLabels[i] },
        title: { display: true, text: yAxisTitle, color: '#000', padding: { top: 76, bottom: 0 },
                 font: { family: FONT, size: 52, weight: 'bold' } }
      }
    }
  },
  plugins: [crossAxes]
});

// ---------------- LEGEND (HTML) ----------------
const legendMarkerX = [724, 1183, 1599, 2087];
const legend = document.getElementById('legend');
seriesNames.forEach((n, i) => {
  const m = document.createElement('div');
  m.className = 'mk';
  m.style.left = (legendMarkerX[i] - 14) + 'px';
  m.style.top = (36 - 14) + 'px';
  m.style.borderColor = seriesColors[i];
  legend.appendChild(m);
  const t = document.createElement('div');
  t.className = 'lg';
  t.style.left = (legendMarkerX[i] + 37) + 'px';
  t.textContent = n;
  legend.appendChild(t);
});

// ---------------- TABLES (HTML) ----------------
function buildTable(el, titleLines, hdrH, hdrPadTop, lineH, colCenters, grayH, valH, values) {
  const h = document.createElement('div');
  h.className = 'hdr';
  h.style.height = hdrH + 'px';
  h.style.lineHeight = lineH + 'px';
  h.style.padding = hdrPadTop + 'px 0 0 16px';
  titleLines.forEach((s, k) => {
    if (k) h.appendChild(document.createElement('br'));
    h.appendChild(document.createTextNode(s));
  });
  el.appendChild(h);
  const g = document.createElement('div');
  g.className = 'grow';
  g.style.height = grayH + 'px';
  colCenters.forEach((cx, i) => {
    const c = document.createElement('div');
    c.className = 'cell';
    c.style.left = (cx - 100) + 'px';
    c.style.top = '0px';
    c.style.height = (grayH - 6) + 'px';
    c.style.lineHeight = (grayH - 10) + 'px';
    c.style.fontWeight = '700';
    c.style.fontSize = '45px';
    c.textContent = tableHeaders[i];
    g.appendChild(c);
  });
  el.appendChild(g);
  const v = document.createElement('div');
  v.className = 'vrow';
  v.style.height = valH + 'px';
  v.style.borderBottom = '3px solid #000';
  colCenters.forEach((cx, i) => {
    const c = document.createElement('div');
    c.className = 'cell';
    c.style.left = (cx - 100) + 'px';
    c.style.top = '0px';
    c.style.height = (valH - 3) + 'px';
    c.style.lineHeight = (valH - 8) + 'px';
    c.style.fontSize = '47px';
    c.textContent = values[i];
    v.appendChild(c);
  });
  el.appendChild(v);
}
buildTable(document.getElementById('tblTop'), qalyTableTitle, 214, 17, 61,
  [2606 - 2512, 2771 - 2512, 2908 - 2512, 3046 - 2512], 97, 97, moreQalysPct);
buildTable(document.getElementById('tblBottom'), costTableTitle, 153, 19, 58,
  [553 - 405, 810 - 405, 1025 - 405, 1241 - 405], 96, 97, lowerCostsPct);
</script>
</body></html>
